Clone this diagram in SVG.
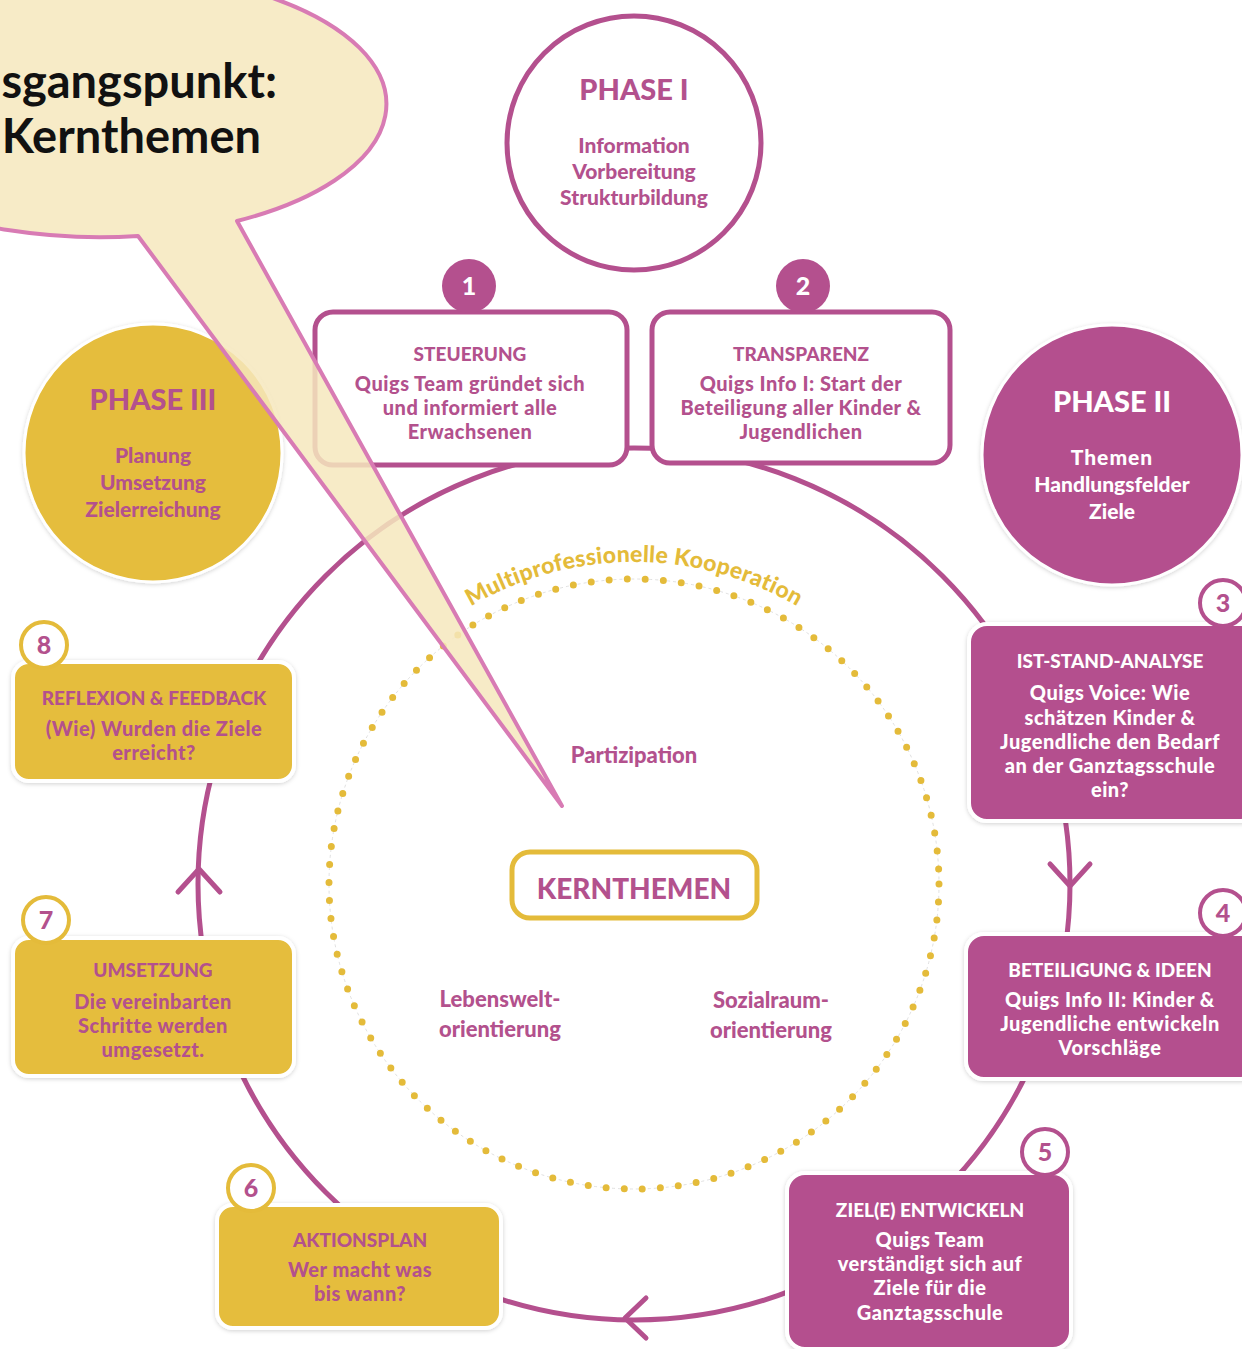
<svg xmlns="http://www.w3.org/2000/svg" width="1242" height="1349" viewBox="0 0 1242 1349">
<defs>
<style>
text{font-family:Lato,"Open Sans","Liberation Sans",sans-serif;font-weight:900;text-anchor:middle}
.pt{fill:#b3518d}
.wt{fill:#ffffff}
.yt{fill:#e4bb3a}
.pbox{fill:#b4508e;stroke:#ffffff;stroke-width:4}
.ybox{fill:#e5bd3c;stroke:#ffffff;stroke-width:4}
.wbox{fill:#ffffff;stroke:#b4508e;stroke-width:5}
.ring{fill:none;stroke:#b4508e;stroke-width:5;stroke-linecap:round;stroke-linejoin:round}
.h{font-size:19px}
.b{font-size:20px;letter-spacing:0.5px}
.ph{font-size:29px}
.ps{font-size:21px}
.num{font-size:25px}
</style>
<filter id="sh" x="-10%" y="-10%" width="120%" height="120%">
<feDropShadow dx="0" dy="1" stdDeviation="2" flood-color="#000" flood-opacity="0.18"/>
</filter>
<path id="arcText" d="M312,884 A322,322 0 0 1 956,884"/>
</defs>
<rect width="1242" height="1349" fill="#ffffff"/>

<g id="connectors">
<circle class="ring" cx="634" cy="884" r="436"/>
<path class="ring" d="M1050,864 L1070,886 L1090,864"/>
<path class="ring" d="M178,892 L199,869 L220,892"/>
<path class="ring" d="M646,1298 L625,1318 L646,1338"/>
</g>

<g id="kooperation">
<circle cx="634" cy="884" r="305" fill="none" stroke="#d8d8d8" stroke-width="0.8" stroke-dasharray="3 3"/>
<circle cx="634" cy="884" r="305" fill="none" stroke="#e4bb3a" stroke-width="7" stroke-linecap="round" stroke-dasharray="0 18.1"/>
<text class="yt" font-size="23" letter-spacing="0.3"><textPath href="#arcText" startOffset="50%">Multiprofessionelle Kooperation</textPath></text>
</g>

<g id="kernthemen">
<text class="pt" x="634" y="763" font-size="22">Partizipation</text>
<rect x="512" y="852" width="245" height="66" rx="18" fill="#ffffff" stroke="#e4bb3a" stroke-width="5"/>
<text class="pt" x="634" y="899" font-size="28">KERNTHEMEN</text>
<text class="pt" x="500" y="1007" font-size="22">Lebenswelt-</text>
<text class="pt" x="500" y="1037" font-size="22">orientierung</text>
<text class="pt" x="771" y="1008" font-size="22">Sozialraum-</text>
<text class="pt" x="771" y="1038" font-size="22">orientierung</text>
</g>

<g id="phase1">
<circle cx="634" cy="143" r="127" fill="#ffffff" stroke="#b4508e" stroke-width="5"/>
<text class="pt ph" x="634" y="100">PHASE I</text>
<text class="pt ps" x="634" y="153">Information</text>
<text class="pt ps" x="634" y="179">Vorbereitung</text>
<text class="pt ps" x="634" y="205">Strukturbildung</text>
</g>

<g id="phase3">
<circle cx="153" cy="453" r="129" fill="#e5bd3c" stroke="#ffffff" stroke-width="3" filter="url(#sh)"/>
<text class="pt ph" x="153" y="410">PHASE III</text>
<text class="pt ps" x="153" y="463">Planung</text>
<text class="pt ps" x="153" y="490">Umsetzung</text>
<text class="pt ps" x="153" y="517">Zielerreichung</text>
</g>

<g id="phase2">
<circle cx="1112" cy="455" r="130" fill="#b4508e" stroke="#ffffff" stroke-width="3" filter="url(#sh)"/>
<text class="wt ph" x="1112" y="412">PHASE II</text>
<text class="wt ps" x="1112" y="465" letter-spacing="1">Themen</text>
<text class="wt ps" x="1112" y="492">Handlungsfelder</text>
<text class="wt ps" x="1112" y="519">Ziele</text>
</g>

<g id="step1">
<rect class="wbox" x="315" y="312" width="312" height="153" rx="18"/>
<circle cx="469" cy="286" r="27" fill="#b4508e"/>
<text class="wt num" x="469" y="295">1</text>
<text class="pt h" x="470" y="361">STEUERUNG</text>
<text class="pt b" x="470" y="391">Quigs Team gründet sich</text>
<text class="pt b" x="470" y="415">und informiert alle</text>
<text class="pt b" x="470" y="439">Erwachsenen</text>
</g>

<g id="step2">
<rect class="wbox" x="652" y="312" width="298" height="151" rx="18"/>
<circle cx="803" cy="286" r="27" fill="#b4508e"/>
<text class="wt num" x="803" y="295">2</text>
<text class="pt h" x="801" y="361">TRANSPARENZ</text>
<text class="pt b" x="801" y="391">Quigs Info I: Start der</text>
<text class="pt b" x="801" y="415">Beteiligung aller Kinder &amp;</text>
<text class="pt b" x="801" y="439">Jugendlichen</text>
</g>

<g id="step3">
<rect class="pbox" x="969" y="624" width="290" height="197" rx="18" filter="url(#sh)"/>
<circle cx="1223" cy="603" r="23" fill="#ffffff" stroke="#b4508e" stroke-width="4"/>
<text class="pt num" x="1223" y="612">3</text>
<text class="wt h" x="1110" y="668">IST-STAND-ANALYSE</text>
<text class="wt b" x="1110" y="700">Quigs Voice: Wie</text>
<text class="wt b" x="1110" y="725">schätzen Kinder &amp;</text>
<text class="wt b" x="1110" y="749">Jugendliche den Bedarf</text>
<text class="wt b" x="1110" y="773">an der Ganztagsschule</text>
<text class="wt b" x="1110" y="797">ein?</text>
</g>

<g id="step4">
<rect class="pbox" x="966" y="934" width="293" height="145" rx="18" filter="url(#sh)"/>
<circle cx="1223" cy="913" r="23" fill="#ffffff" stroke="#b4508e" stroke-width="4"/>
<text class="pt num" x="1223" y="922">4</text>
<text class="wt h" x="1110" y="977">BETEILIGUNG &amp; IDEEN</text>
<text class="wt b" x="1110" y="1007">Quigs Info II: Kinder &amp;</text>
<text class="wt b" x="1110" y="1031">Jugendliche entwickeln</text>
<text class="wt b" x="1110" y="1055">Vorschläge</text>
</g>

<g id="step5">
<rect class="pbox" x="787" y="1173" width="284" height="176" rx="18" filter="url(#sh)"/>
<circle cx="1045" cy="1152" r="23" fill="#ffffff" stroke="#b4508e" stroke-width="4"/>
<text class="pt num" x="1045" y="1161">5</text>
<text class="wt h" x="930" y="1217">ZIEL(E) ENTWICKELN</text>
<text class="wt b" x="930" y="1247">Quigs Team</text>
<text class="wt b" x="930" y="1271">verständigt sich auf</text>
<text class="wt b" x="930" y="1295">Ziele für die</text>
<text class="wt b" x="930" y="1320">Ganztagsschule</text>
</g>

<g id="step6">
<rect class="ybox" x="217" y="1205" width="284" height="123" rx="16" filter="url(#sh)"/>
<circle cx="251" cy="1188" r="23" fill="#ffffff" stroke="#e4bb3a" stroke-width="4"/>
<text class="pt num" x="251" y="1197">6</text>
<text class="pt h" x="360" y="1247">AKTIONSPLAN</text>
<text class="pt b" x="360" y="1277">Wer macht was</text>
<text class="pt b" x="360" y="1301">bis wann?</text>
</g>

<g id="step7">
<rect class="ybox" x="13" y="938" width="281" height="138" rx="16" filter="url(#sh)"/>
<circle cx="46" cy="920" r="23" fill="#ffffff" stroke="#e4bb3a" stroke-width="4"/>
<text class="pt num" x="46" y="929">7</text>
<text class="pt h" x="153" y="977">UMSETZUNG</text>
<text class="pt b" x="153" y="1009">Die vereinbarten</text>
<text class="pt b" x="153" y="1033">Schritte werden</text>
<text class="pt b" x="153" y="1057">umgesetzt.</text>
</g>

<g id="step8">
<rect class="ybox" x="13" y="662" width="281" height="119" rx="16" filter="url(#sh)"/>
<circle cx="44" cy="645" r="23" fill="#ffffff" stroke="#e4bb3a" stroke-width="4"/>
<text class="pt num" x="44" y="654">8</text>
<text class="pt h" x="154" y="705">REFLEXION &amp; FEEDBACK</text>
<text class="pt b" x="154" y="736">(Wie) Wurden die Ziele</text>
<text class="pt b" x="154" y="760">erreicht?</text>
</g>

<g id="callout">
<path d="M237,221 A286,133 0 1 0 138,236 L562,806 Z" fill="#f6e8bd" fill-opacity="0.85" stroke="#d87bb4" stroke-width="4" stroke-linejoin="round"/>
<text x="277" y="98" font-size="47" fill="#111111" style="text-anchor:end;font-weight:bold">Ausgangspunkt:</text>
<text x="261" y="153" font-size="47" fill="#111111" style="text-anchor:end;font-weight:bold">Kernthemen</text>
</g>
</svg>
